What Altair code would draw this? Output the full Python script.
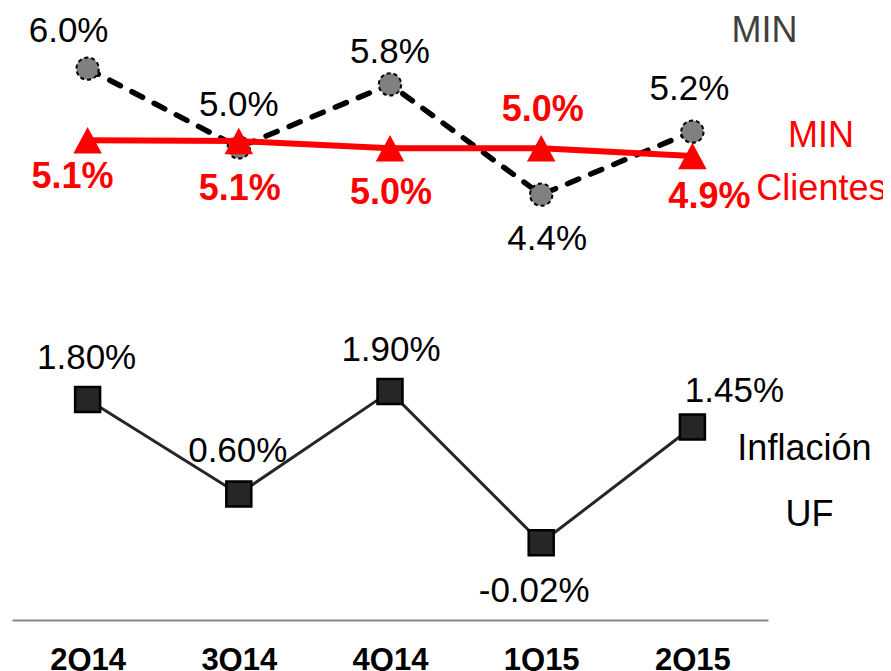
import altair as alt
import pandas as pd

quarters = ["2Q14", "3Q14", "4Q14", "1Q15", "2Q15"]
min_vals = [6.0, 5.0, 5.8, 4.4, 5.2]
min_labels = ["6.0%", "5.0%", "5.8%", "4.4%", "5.2%"]
clientes_vals = [5.09, 5.08, 4.99, 4.99, 4.89]
clientes_labels = ["5.1%", "5.1%", "5.0%", "5.0%", "4.9%"]
inflacion_vals = [1.80, 0.60, 1.90, -0.02, 1.45]
inflacion_labels = ["1.80%", "0.60%", "1.90%", "-0.02%", "1.45%"]

rows = []
for s, vals, labs in [("MIN", min_vals, min_labels),
                      ("MIN Clientes", clientes_vals, clientes_labels),
                      ("Inflación UF", inflacion_vals, inflacion_labels)]:
    for q, v, l in zip(quarters, vals, labs):
        rows.append({"quarter": q, "series": s, "value": v, "label": l})
df = pd.DataFrame(rows)

FONT = "Liberation Sans"

x = alt.X("quarter:N", sort=quarters,
          scale=alt.Scale(type="point", padding=0.5),
          axis=alt.Axis(title=None, labelAngle=0, labelFont=FONT, labelFontSize=31,
                        labelFontWeight="bold", labelColor="black", ticks=False,
                        tickSize=0, labelPadding=25, domainColor="#898989",
                        domainWidth=2, grid=False))
y = alt.Y("value:Q", scale=alt.Scale(domain=[-1, 6.77], nice=False, zero=False), axis=None)

base = alt.Chart(df).encode(x=x, y=y)


def sel(s):
    return base.transform_filter(alt.datum.series == s)


layers = []
# MIN (dashed, grey circles)
layers.append(sel("MIN").mark_line(color="black", strokeWidth=5.5, strokeDash=[12, 13], strokeCap="round"))
layers.append(sel("MIN").mark_point(filled=True, fill="#808080", stroke="black", strokeWidth=2,
                                    strokeDash=[4, 3], size=500, opacity=1, fillOpacity=1))
# MIN Clientes (red, triangles)
layers.append(sel("MIN Clientes").mark_line(color="#ff0000", strokeWidth=6))
layers.append(sel("MIN Clientes").mark_point(shape="M0,-0.93L1,0.93L-1,0.93Z", filled=True,
                                             fill="#ff0000", strokeWidth=0, size=812,
                                             opacity=1, fillOpacity=1))
# Inflación UF (black, squares)
layers.append(sel("Inflación UF").mark_line(color="#262626", strokeWidth=3))
layers.append(sel("Inflación UF").mark_point(shape="square", filled=True, fill="#262626",
                                             stroke="black", strokeWidth=2.5, size=625,
                                             opacity=1, fillOpacity=1))

# value labels: (dx, dy) per point
label_style = {
    "MIN": dict(color="black", fontWeight="normal", fontSize=35,
                offsets=[(-19, -38), (0, -42), (0, -32), (6, 44), (-3, -43)]),
    "MIN Clientes": dict(color="#ff0000", fontWeight="bold", fontSize=36,
                         offsets=[(-15, 37), (1, 47.5), (1, 44.5), (1.5, -38), (17, 41)]),
    "Inflación UF": dict(color="black", fontWeight="normal", fontSize=35,
                         offsets=[(-1, -41), (-1, -42.5), (1, -41.5), (-7, 48.5), (42, -36)]),
}
for s, st in label_style.items():
    for q, (dx, dy) in zip(quarters, st["offsets"]):
        layers.append(
            base.transform_filter((alt.datum.series == s) & (alt.datum.quarter == q))
            .mark_text(font=FONT, fontSize=st["fontSize"], fontWeight=st["fontWeight"],
                       color=st["color"], dx=dx, dy=dy, align="center", baseline="middle")
            .encode(text="label:N")
        )

# series names, attached to the last point of each series
series_text = [
    ("MIN", "MIN", "#404040", 72, -101),
    ("MIN Clientes", "MIN", "#ff0000", 128.5, -20.5),
    ("MIN Clientes", "Clientes", "#ff0000", 129, 32.5),
    ("Inflación UF", "Inflación", "black", 112, 22),
    ("Inflación UF", "UF", "black", 117, 88),
]
for s, txt, col, dx, dy in series_text:
    layers.append(
        base.transform_filter((alt.datum.series == s) & (alt.datum.quarter == quarters[-1]))
        .mark_text(font=FONT, fontSize=36, color=col, dx=dx, dy=dy, align="center", baseline="middle")
        .encode(text=alt.value(txt))
    )

chart = alt.layer(*layers).properties(
    width=756, height=612,
    autosize=alt.AutoSizeParams(type="none"),
    padding={"left": 4, "top": 0, "right": 115, "bottom": 52},
    background="white",
).configure_view(stroke=None)

chart.save("out.html", embed_options={"renderer": "svg", "actions": False})
